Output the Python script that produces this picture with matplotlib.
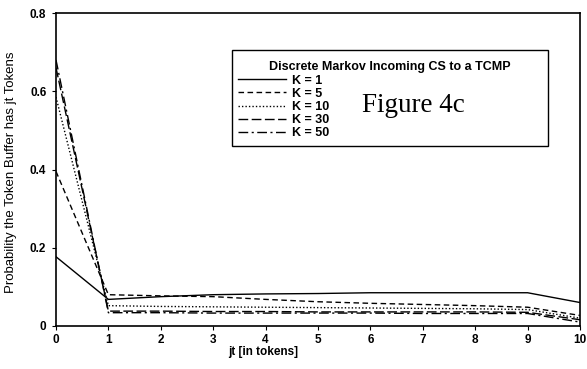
import numpy as np
import matplotlib.pyplot as plt
from matplotlib.patches import Rectangle

# buffer occupancy jt (tokens) and probabilities
jt = [0, 1, 2, 3, 4, 5, 6, 7, 8, 9, 10]
k1 = [0.177, 0.068, 0.075, 0.080, 0.082, 0.083, 0.085, 0.085, 0.085, 0.085, 0.060]
k5 = [0.395, 0.080, 0.077, 0.075, 0.068, 0.062, 0.058, 0.055, 0.052, 0.048, 0.027]
k10 = [0.585, 0.052, 0.050, 0.049, 0.048, 0.047, 0.046, 0.045, 0.044, 0.042, 0.020]
k30 = [0.660, 0.038, 0.038, 0.037, 0.037, 0.036, 0.036, 0.036, 0.036, 0.035, 0.016]
k50 = [0.680, 0.034, 0.034, 0.033, 0.033, 0.033, 0.033, 0.032, 0.032, 0.032, 0.010]

plt.rcParams['font.family'] = ['Liberation Sans', 'DejaVu Sans']

W, H = 587, 369
fig = plt.figure(figsize=(W / 100, H / 100), dpi=100)
ax = fig.add_axes([56 / W, 1 - 326 / H, (580 - 56) / W, (326 - 13) / H])

ax.plot(jt, k1, color="k", lw=1.0, linestyle="-", label="K = 1")
ax.plot(jt, k5, color="k", lw=1.0, linestyle=(0, (4, 2.5)), label="K = 5")
ax.plot(jt, k10, color="k", lw=1.0, linestyle=(0, (1, 1.5)), label="K = 10")
ax.plot(jt, k30, color="k", lw=1.0, linestyle=(0, (7, 2.5)), label="K = 30")
ax.plot(jt, k50, color="k", lw=1.0, linestyle=(0, (7, 2.5, 1.5, 2.5)), label="K = 50")

ax.set_xlim(0, 10)
ax.set_ylim(0, 0.8)
ax.set_xticks(jt)
ax.set_yticks([0, 0.2, 0.4, 0.6, 0.8])
ax.set_yticklabels(["0", "0.2", "0.4", "0.6", "0.8"])
ax.tick_params(labelsize=8.5, length=3, width=0.8, direction="out", pad=3)
ax.tick_params(axis="y", pad=4)
for lbl in ax.get_xticklabels() + ax.get_yticklabels():
    lbl.set_fontweight("bold")
for s in ax.spines.values():
    s.set_linewidth(1.2)

ax.set_xlabel("jt [in tokens]", fontsize=8.5, fontweight="bold")
ax.xaxis.set_label_coords((263 - 56) / (580 - 56), -0.065)
ax.set_ylabel("Probability the Token Buffer has jt Tokens", fontsize=9.5)
ax.yaxis.set_label_coords(-(56 - 17) / (580 - 56), 0.49)

# legend box drawn separately so it can be wider than its contents
x0, x1 = 232 / W, 548 / W
ax.add_patch(Rectangle((x0, 1 - 146 / H), x1 - x0, 96 / H, transform=fig.transFigure,
                       facecolor="white", edgecolor="k", lw=1.0, zorder=4, clip_on=False))
leg = ax.legend(title="Discrete Markov Incoming CS to a TCMP", loc="upper left",
                bbox_to_anchor=(x0, 1 - 55 / H, x1 - x0, 0.0), bbox_transform=fig.transFigure,
                mode="expand", prop={"size": 9, "weight": "bold"},
                frameon=False, handlelength=3.8, handletextpad=0.5,
                labelspacing=0.1, borderpad=0.5, borderaxespad=0)
leg.get_title().set_fontsize(9)
leg.get_title().set_fontweight("bold")
leg.set_zorder(6)

ax.text(362 / W, 1 - 105 / H, "Figure 4c", fontsize=19.5, family="Liberation Serif",
        ha="left", va="center", zorder=7, transform=fig.transFigure)

fig.savefig("out.png", dpi=100)
